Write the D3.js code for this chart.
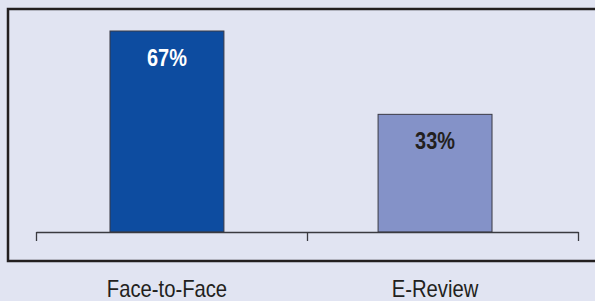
<!doctype html>
<html>
<head>
<meta charset="utf-8">
<style>
    body { margin: 0; background: #e1e4f2; }
    svg { display: block; }
    .lbl { font-family: "Liberation Sans", Arial, sans-serif; }
</style>
</head>
<body>
<script src="https://cdnjs.cloudflare.com/ajax/libs/d3/7.8.5/d3.min.js"></script>
<script>
var categories = ["Face-to-Face", "E-Review"];
var values = [67, 33];
var valueLabels = ["67%", "33%"];
var barColors = ["#0d4ca0", "#8492c8"];
var labelColors = ["#ffffff", "#231f20"];

var width = 595, height = 301;

var svg = d3.select("body").append("svg")
    .attr("width", width)
    .attr("height", height);

// outer frame (runs off the right side in the original)
svg.append("rect")
    .attr("x", 8).attr("y", 9)
    .attr("width", 620).attr("height", 252)
    .attr("fill", "none")
    .attr("stroke", "#231f20")
    .attr("stroke-width", 2.5);

// the original's baseline is not at zero, so the domain starts below it
var y = d3.scaleLinear()
    .domain([-15, 67])
    .range([232, 31]);

var x = d3.scaleBand()
    .domain(categories)
    .range([36, 566])
    .paddingInner(0.575)
    .paddingOuter(0.276);

var axisX = d3.scaleLinear().domain([0, categories.length]).range([36, 578]);

svg.selectAll(".bar")
    .data(values)
    .enter()
    .append("rect")
    .attr("class", "bar")
    .attr("x", function (d, i) { return x(categories[i]); })
    .attr("y", function (d) { return y(d); })
    .attr("width", x.bandwidth())
    .attr("height", function (d) { return y(-15) - y(d); })
    .attr("fill", function (d, i) { return barColors[i]; })
    .attr("stroke", "#3a3a44")
    .attr("stroke-width", 1);

// axis with ticks between categories
var axis = svg.append("g")
    .attr("transform", "translate(0," + y(-15) + ")")
    .call(d3.axisBottom(axisX)
        .tickValues(d3.range(categories.length + 1))
        .tickFormat("")
        .tickSizeInner(9)
        .tickSizeOuter(0));
axis.selectAll("path, line").attr("stroke", "#3a3a40").attr("stroke-width", 1.3);

// condensed look: squeeze the text horizontally
svg.selectAll(".val")
    .data(values)
    .enter()
    .append("text")
    .attr("class", "lbl")
    .attr("transform", function (d, i) {
        return "translate(" + (x(categories[i]) + x.bandwidth() / 2) + "," + (y(d) + 35) + ") scale(0.83,1)";
    })
    .attr("text-anchor", "middle")
    .style("font-size", "24px")
    .style("font-weight", "bold")
    .attr("fill", function (d, i) { return labelColors[i]; })
    .text(function (d, i) { return valueLabels[i]; });

svg.selectAll(".cat")
    .data(categories)
    .enter()
    .append("text")
    .attr("class", "lbl")
    .attr("transform", function (d) {
        return "translate(" + (x(d) + x.bandwidth() / 2) + ",297) scale(0.88,1)";
    })
    .attr("text-anchor", "middle")
    .style("font-size", "23px")
    .attr("fill", "#231f20")
    .text(function (d) { return d; });
</script>
</body>
</html>
